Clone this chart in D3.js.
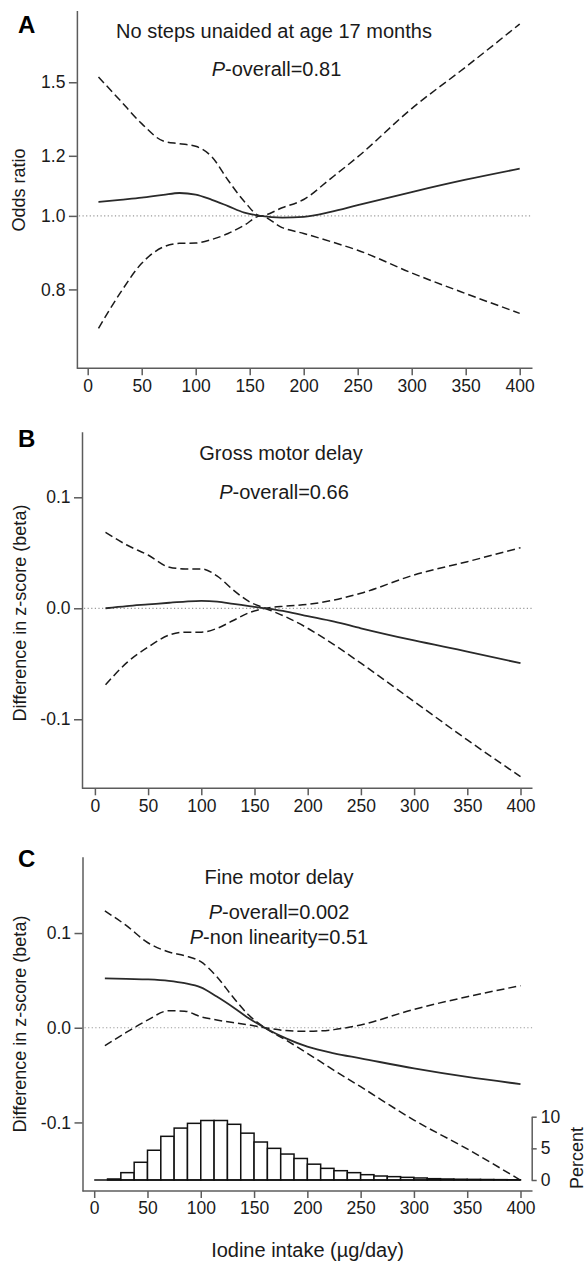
<!DOCTYPE html>
<html>
<head>
<meta charset="utf-8">
<script src="https://cdn.jsdelivr.net/npm/d3@7"></script>
<style>
  body { margin: 0; background: #fff; }
  svg { display: block; font-family: "Liberation Sans", Arial, sans-serif; }
</style>
</head>
<body>
<div class="plot"></div>
<script>
// iodine intake grid (ug/day) the curves were read at
var intake = [10, 30, 50, 70, 85, 100, 115, 130, 145, 160, 180, 200, 225, 250, 300, 350, 400];

// A: no steps unaided, odds ratio
var orEst  = [1.043, 1.050, 1.057, 1.066, 1.072, 1.067, 1.050, 1.030, 1.010, 1.0, 0.995, 0.997, 1.012, 1.033, 1.075, 1.116, 1.154];
var orUp   = [1.524, 1.420, 1.323, 1.255, 1.245, 1.235, 1.196, 1.114, 1.045, 1.0, 1.025, 1.051, 1.120, 1.196, 1.385, 1.571, 1.790];
var orLow  = [0.711, 0.791, 0.866, 0.910, 0.920, 0.921, 0.931, 0.948, 0.972, 1.0, 0.965, 0.948, 0.925, 0.901, 0.841, 0.790, 0.744];

// B: gross motor delay, beta
var grossEst = [0.0, 0.002, 0.0035, 0.005, 0.006, 0.0066, 0.006, 0.004, 0.002, 0.0, -0.003, -0.007, -0.012, -0.018, -0.029, -0.039, -0.0495];
var grossUp  = [0.0685, 0.057, 0.048, 0.037, 0.0355, 0.0355, 0.029, 0.0165, 0.006, 0.0, -0.008, -0.018, -0.033, -0.0495, -0.084, -0.1186, -0.1517];
var grossLow = [-0.069, -0.049, -0.035, -0.024, -0.0215, -0.0215, -0.018, -0.011, -0.004, 0.0, 0.002, 0.0035, 0.0075, 0.0135, 0.030, 0.042, 0.0546];

// C: fine motor delay, beta
var fineEst = [0.0522, 0.0515, 0.051, 0.0495, 0.047, 0.0426, 0.033, 0.022, 0.010, 0.0, -0.0113, -0.020, -0.027, -0.0323, -0.043, -0.052, -0.0595];
var fineUp  = [0.1233, 0.108, 0.090, 0.080, 0.076, 0.0697, 0.054, 0.0327, 0.0134, 0.0, -0.013, -0.027, -0.045, -0.0623, -0.0975, -0.128, -0.161];
var fineLow = [-0.019, -0.005, 0.008, 0.018, 0.0175, 0.0116, 0.0082, 0.0055, 0.003, 0.0, -0.003, -0.0038, -0.002, 0.003, 0.0194, 0.0327, 0.0444];

// intake distribution (percent per 12.5 ug/day bin)
var binStart = [0, 12.5, 25, 37.5, 50, 62.5, 75, 87.5, 100, 112.5, 125, 137.5, 150, 162.5, 175, 187.5,
                200, 212.5, 225, 237.5, 250, 262.5, 275, 287.5, 300, 312.5, 325, 337.5, 350, 362.5, 375, 387.5];
var binPct   = [0, 0.16, 1.16, 2.8, 4.7, 6.9, 8.2, 8.95, 9.4, 9.4, 8.8, 7.4, 6.0, 5.0, 4.1, 3.4,
                2.5, 1.84, 1.47, 1.16, 0.84, 0.63, 0.53, 0.42, 0.32, 0.21, 0.16, 0.12, 0.10, 0.08, 0.06, 0.04];

var xTicks = [0, 50, 100, 150, 200, 250, 300, 350, 400];
var orTicks = [0.8, 1.0, 1.2, 1.5];
var betaTicks = [-0.1, 0.0, 0.1];
var pctTicks = [0, 5, 10];

var axisCol = "#5c5c5c", inkCol = "#1a1a1a";
var fmt1 = d3.format(".1f");

var svg = d3.select(".plot")
  .append("svg")
  .attr("width", 588)
  .attr("height", 1262);

function styleAxis(g) {
  g.selectAll(".domain").attr("stroke", axisCol).attr("stroke-width", 1.5);
  g.selectAll(".tick line").attr("stroke", axisCol).attr("stroke-width", 1.5);
  g.selectAll(".tick text").attr("fill", inkCol).style("font-size", "17.5px");
}

function panel(p) {
  var x = d3.scaleLinear().domain([0, 400]).range([p.x0, p.x400]);
  var y = (p.log ? d3.scaleLog() : d3.scaleLinear())
      .domain(p.yDomain)
      .range([p.bottom, p.top]);

  var g = svg.append("g");

  // y axis (plain hyphen for negatives, like the original)
  g.append("g")
    .attr("transform", "translate(" + p.left + ",0)")
    .call(d3.axisLeft(y).tickValues(p.yTicks).tickSize(8).tickPadding(3.5).tickSizeOuter(0)
      .tickFormat(function(d) { return fmt1(d).replace("\u2212", "-"); }))
    .call(styleAxis);

  // x axis
  var xa = g.append("g")
    .attr("transform", "translate(0," + p.bottom + ")")
    .call(d3.axisBottom(x).tickValues(xTicks).tickSize(7).tickPadding(4).tickSizeOuter(0))
    .call(styleAxis);
  xa.select(".domain").remove();
  xa.append("line")
    .attr("x1", p.left).attr("x2", p.right)
    .attr("stroke", axisCol).attr("stroke-width", 1.5);

  // reference line
  g.append("line")
    .attr("x1", p.left + 2).attr("x2", p.right)
    .attr("y1", y(p.ref)).attr("y2", y(p.ref))
    .attr("stroke", "#9a9a9a")
    .attr("stroke-width", 1.2)
    .attr("stroke-dasharray", "1.2,2.4");

  var line = d3.line()
    .x(function(d) { return x(d[0]); })
    .y(function(d) { return y(d[1]); })
    .curve(d3.curveMonotoneX);

  [p.up, p.low].forEach(function(s) {
    g.append("path")
      .attr("d", line(d3.zip(intake, s)))
      .attr("fill", "none")
      .attr("stroke", inkCol)
      .attr("stroke-width", 1.5)
      .attr("stroke-dasharray", "8,4");
  });
  g.append("path")
    .attr("d", line(d3.zip(intake, p.est)))
    .attr("fill", "none")
    .attr("stroke", "#2a2a2a")
    .attr("stroke-width", 1.8);

  // panel letter
  g.append("text")
    .attr("x", p.letterX).attr("y", p.letterY)
    .style("font-size", "24px").style("font-weight", "bold")
    .attr("fill", "#000")
    .text(p.letter);

  // titles
  p.titles.forEach(function(t) {
    var tx = g.append("text")
      .attr("x", t.x).attr("y", t.y)
      .attr("text-anchor", "middle")
      .style("font-size", "20px")
      .attr("fill", inkCol);
    if (t.italic) {
      tx.append("tspan").style("font-style", "italic").text(t.italic);
    }
    tx.append("tspan").text(t.text);
  });

  // y label
  g.append("text")
    .attr("transform", "translate(" + p.labelX + "," + p.labelY + ") rotate(-90)")
    .attr("dy", "0.35em")
    .attr("text-anchor", "middle")
    .style("font-size", "18px")
    .attr("fill", inkCol)
    .text(p.label);

  return {x: x, y: y, g: g};
}

var pa = panel({
  letter: "A", letterX: 18, letterY: 33.3,
  left: 76.9, right: 532.5, top: 10.5, bottom: 368.3,
  x0: 87.7, x400: 519.7,
  log: true, yDomain: [0.6297, 1.865], yTicks: orTicks, ref: 1,
  est: orEst, up: orUp, low: orLow,
  titles: [{x: 274, y: 38.3, text: "No steps unaided at age 17 months"},
           {x: 276.5, y: 76, italic: "P", text: "-overall=0.81"}],
  label: "Odds ratio", labelX: 18.5, labelY: 190
});

var pb = panel({
  letter: "B", letterX: 18, letterY: 447.3,
  left: 82, right: 532.5, top: 431.7, bottom: 788.3,
  x0: 94.9, x400: 520.5,
  log: false, yDomain: [-0.1622, 0.1591], yTicks: betaTicks, ref: 0,
  est: grossEst, up: grossUp, low: grossLow,
  titles: [{x: 281, y: 460, text: "Gross motor delay"},
           {x: 284, y: 499, italic: "P", text: "-overall=0.66"}],
  label: "Difference in z-score (beta)", labelX: 20, labelY: 613
});

var pc = panel({
  letter: "C", letterX: 18, letterY: 866.7,
  left: 82.5, right: 532.5, top: 856.7, bottom: 1191,
  x0: 94.2, x400: 520.5,
  log: false, yDomain: [-0.1724, 0.1806], yTicks: betaTicks, ref: 0,
  est: fineEst, up: fineUp, low: fineLow,
  titles: [{x: 279, y: 884, text: "Fine motor delay"},
           {x: 279, y: 918.5, italic: "P", text: "-overall=0.002"},
           {x: 279, y: 944, italic: "P", text: "-non linearity=0.51"}],
  label: "Difference in z-score (beta)", labelX: 20, labelY: 1024
});

// histogram of intake in panel C
var py = d3.scaleLinear().domain([0, 10]).range([1180, 1116.7]);
var bins = d3.zip(binStart, binPct).filter(function(d) { return d[1] > 0; });

pc.g.append("g")
  .selectAll("rect")
  .data(bins)
  .enter().append("rect")
  .attr("x", function(d) { return pc.x(d[0]); })
  .attr("width", function(d) { return pc.x(d[0] + 12.5) - pc.x(d[0]); })
  .attr("y", function(d) { return py(d[1]); })
  .attr("height", function(d) { return py(0) - py(d[1]); })
  .attr("fill", "#fff")
  .attr("stroke", "#111")
  .attr("stroke-width", 1.5);

pc.g.append("line")
  .attr("x1", pc.x(0)).attr("x2", pc.x(400))
  .attr("y1", py(0)).attr("y2", py(0))
  .attr("stroke", "#111").attr("stroke-width", 1.5);

pc.g.append("g")
  .attr("transform", "translate(531.7,0)")
  .call(d3.axisRight(py).tickValues(pctTicks).tickSize(5).tickPadding(4).tickSizeOuter(0))
  .call(styleAxis);

pc.g.append("text")
  .attr("transform", "translate(576.5,1158) rotate(-90)")
  .attr("dy", "0.35em")
  .attr("text-anchor", "middle")
  .style("font-size", "18px")
  .attr("fill", inkCol)
  .text("Percent");

svg.append("text")
  .attr("x", 307.5).attr("y", 1256.5)
  .attr("text-anchor", "middle")
  .style("font-size", "20px")
  .attr("fill", inkCol)
  .text("Iodine intake (µg/day)");
</script>
</body>
</html>
